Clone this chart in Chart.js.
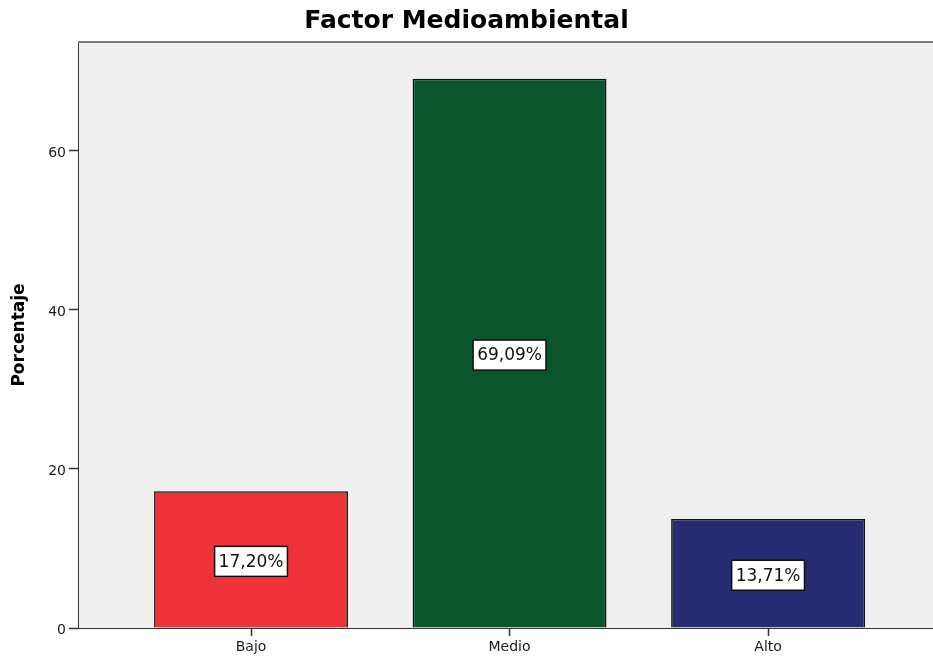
<!DOCTYPE html>
<html>
<head>
<meta charset="utf-8">
<script src="https://cdn.jsdelivr.net/npm/chart.js@4"></script>
<style>
  html, body { margin: 0; padding: 0; background: #ffffff; overflow: hidden; }
  #wrap { width: 933px; height: 657px; }
</style>
</head>
<body>
<div id="wrap"><canvas id="c" width="933" height="657"></canvas></div>
<script>
// Nivel del factor medioambiental y porcentaje de casos en cada nivel
const categories = ['Bajo', 'Medio', 'Alto'];
const percentages = [17.20, 69.09, 13.71];
const barColors = ['#ef3339', '#0b552e', '#282a72'];
const yTicks = [0, 20, 40, 60];

const FONT = "'DejaVu Sans', sans-serif";

// Fondo gris del área de trazado y línea superior del marco
const plotFrame = {
  id: 'plotFrame',
  beforeDatasetsDraw(chart) {
    const { ctx, chartArea: a } = chart;
    ctx.save();
    ctx.fillStyle = '#efefef';
    ctx.fillRect(a.left, a.top, a.right - a.left, a.bottom - a.top);
    ctx.restore();
  },
  afterDraw(chart) {
    const { ctx, chartArea: a } = chart;
    ctx.save();
    ctx.strokeStyle = '#7a7a7a';
    ctx.lineWidth = 2;
    ctx.beginPath();
    ctx.moveTo(a.left - 1, a.top);
    ctx.lineTo(a.right, a.top);
    ctx.stroke();
    ctx.restore();
  }
};

// Etiquetas de porcentaje en recuadro blanco en el centro de cada barra
const valueBoxes = {
  id: 'valueBoxes',
  afterDatasetsDraw(chart) {
    const { ctx } = chart;
    const meta = chart.getDatasetMeta(0);
    ctx.save();
    ctx.font = '17px ' + FONT;
    ctx.textAlign = 'center';
    ctx.textBaseline = 'middle';
    meta.data.forEach((bar, i) => {
      const text = percentages[i].toFixed(2).replace('.', ',') + '%';
      const cx = bar.x;
      const cy = (bar.y + bar.base) / 2 + 2;
      const w = ctx.measureText(text).width + 8;
      const h = 30;
      ctx.fillStyle = '#ffffff';
      ctx.fillRect(cx - w / 2, cy - h / 2, w, h);
      ctx.strokeStyle = '#111111';
      ctx.lineWidth = 1.5;
      ctx.strokeRect(cx - w / 2, cy - h / 2, w, h);
      ctx.fillStyle = '#111111';
      ctx.fillText(text, cx, cy + 1);
    });
    ctx.restore();
  }
};

new Chart(document.getElementById('c'), {
  type: 'bar',
  data: {
    datasets: [{
      data: categories.map((c, i) => ({ x: i + 1, y: percentages[i] })),
      backgroundColor: barColors,
      borderColor: '#111111',
      borderWidth: 1.6,
      categoryPercentage: 1,
      barPercentage: 0.75
    }]
  },
  options: {
    responsive: false,
    animation: false,
    events: [],
    layout: { padding: { left: 0, right: 0, top: 0, bottom: 0 } },
    plugins: {
      legend: { display: false },
      tooltip: { enabled: false },
      title: {
        display: true,
        text: 'Factor Medioambiental',
        color: '#000000',
        font: { family: FONT, size: 25, weight: 'bold' },
        padding: { top: 6, bottom: 6 }
      }
    },
    scales: {
      x: {
        type: 'linear',
        offset: false,
        min: 0.3346,
        max: 3.638,
        afterBuildTicks(scale) {
          scale.ticks = categories.map((c, i) => ({ value: i + 1 }));
        },
        afterFit(scale) { scale.height = 29; },
        ticks: {
          callback: (v) => categories[v - 1],
          color: '#1a1a1a',
          font: { family: FONT, size: 14 },
          padding: 3,
          autoSkip: false,
          maxRotation: 0
        },
        grid: {
          offset: false,
          drawOnChartArea: false,
          drawTicks: true,
          tickLength: 8,
          tickColor: '#333333',
          tickWidth: 1.5
        },
        border: { color: '#333333', width: 2 }
      },
      y: {
        min: 0,
        max: 73.7,
        afterBuildTicks(scale) {
          scale.ticks = yTicks.map(v => ({ value: v }));
        },
        afterFit(scale) { scale.width = 79; },
        ticks: {
          includeBounds: false,
          color: '#1a1a1a',
          font: { family: FONT, size: 14 },
          padding: 3,
          labelOffset: 2
        },
        grid: {
          drawOnChartArea: false,
          drawTicks: true,
          tickLength: 10,
          tickColor: '#333333',
          tickWidth: 1.5
        },
        border: { color: '#333333', width: 2 },
        title: {
          display: true,
          text: 'Porcentaje',
          color: '#000000',
          font: { family: FONT, size: 17, weight: 'bold' },
          padding: { top: 9, bottom: 0 }
        }
      }
    }
  },
  plugins: [plotFrame, valueBoxes]
});
</script>
</body>
</html>
